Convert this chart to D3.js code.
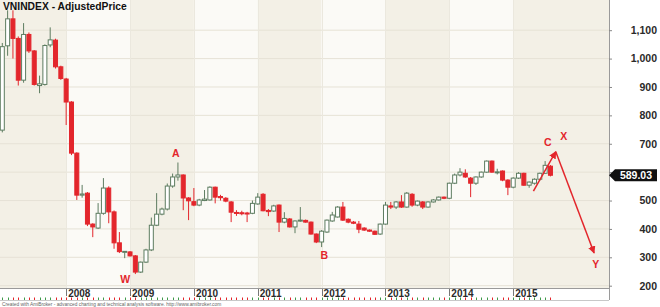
<!DOCTYPE html>
<html lang="en">
<head>
<meta charset="UTF-8" />
<title>VNINDEX - AdjustedPrice</title>
<style>
  body { margin: 0; background: #fff; }
  svg { display: block; font-family: "Liberation Sans", Arial, sans-serif; }
  .ylab { font-size: 10.5px; font-weight: bold; fill: #2a2a2a; }
  .xlab { font-size: 10px; font-weight: bold; fill: #2a2a2a; }
  .wave { font-size: 10.5px; font-weight: bold; fill: #e3262c; text-anchor: middle; }
</style>
</head>
<body>
<svg width="660" height="307"></svg>
<script src="https://d3js.org/d3.v7.min.js"></script>
<script>
// monthly bars, Jan 2007 .. Aug 2015
const months = [];
for (let yr = 2007; yr <= 2015; yr++)
  for (let m = 1; m <= 12; m++)
    if (yr < 2015 || m <= 8) months.push(yr + "-" + String(m).padStart(2, "0"));

const open = [748,1045,1140,1071,924,1085,1027,905,909,1048,1065,971,
  928,847,667,519,526,417,403,455,544,460,351,319,
  319,305,248,283,326,413,452,470,551,583,590,509,
  496,484,500,502,547,514,508,495,458,457,456,455,
  488,522,465,463,484,424,435,407,428,430,424,382,
  354,389,428,442,477,434,424,417,403,396,392,382,
  417,481,477,495,477,522,484,495,477,495,502,512,
  508,561,590,596,579,561,583,600,639,598,604,572,
  547,579,596,554,561,575,596,621];
const high = [1055,1170,1170,1078,1125,1092,1030,940,1050,1110,1070,975,
  932,850,670,555,530,420,491,579,550,465,389,322,
  322,308,285,330,440,526,475,560,595,634,592,512,
  544,506,537,550,549,520,512,498,466,464,460,500,
  526,526,470,485,486,459,438,430,477,433,426,384,
  396,433,460,480,495,437,428,428,406,398,394,419,
  495,495,498,519,530,526,500,498,497,505,514,514,
  563,595,614,610,583,585,602,641,641,612,606,575,
  582,600,598,567,578,598,639,625];
const low = [740,1010,1000,905,915,1020,905,878,905,1040,965,925,
  766,660,502,510,410,371,400,450,420,330,315,297,
  303,241,245,280,322,410,448,465,545,570,466,431,
  480,480,498,500,490,500,494,424,446,448,424,452,
  485,462,445,460,389,420,405,385,425,422,380,350,
  336,386,425,440,428,420,417,385,393,390,379,379,
  415,470,470,474,475,478,480,470,475,493,500,505,
  505,558,585,580,512,555,580,598,598,592,568,519,
  543,576,552,545,556,570,594,585];
const close = [1042,1140,1071,924,1085,1027,909,911,1046,1066,971,930,
  847,667,519,523,417,407,455,544,460,351,320,321,
  305,248,283,326,413,452,470,551,583,590,509,499,
  484,502,505,547,512,510,498,459,455,454,453,490,
  512,464,461,481,424,437,407,428,431,424,382,354,
  392,431,449,477,431,424,420,399,396,392,381,417,
  484,477,495,477,526,484,498,477,495,502,512,508,
  561,590,600,583,561,583,600,639,600,601,572,547,
  579,596,554,565,575,596,624,589.03];

const yTicks = [200, 300, 400, 500, 600, 700, 800, 900, 1000, 1100];
const yearStarts = [0, 12, 24, 36, 48, 60, 72, 84, 96];
const yearNames = ["2007","2008","2009","2010","2011","2012","2013","2014","2015"];

// wave labels: bar position, value at the text baseline
const waveNames = ["A", "W", "B", "C", "X", "Y"];
const waveBar   = [32.6, 23.1, 60.5, 102.5, 105.5, 111.5];
const waveValue = [653, 208, 293, 692, 713, 261];

// projected path: start -> C/X top -> Y
const arrowBar   = [99.8, 104, 111.2];
const arrowValue = [533, 672, 315];

const bars = months.map((m, i) => ({
  i, m, o: open[i], h: high[i], l: low[i], c: close[i], up: close[i] >= open[i]
}));

const svg = d3.select("svg");
const plotR = 609, plotB = 288;

const x = d3.scaleLinear().domain([0, 114]).range([2.3, plotR]);
const y = d3.scaleLinear().domain([200, 1100]).range([285.7, 30.2]);

const RED = "#e3262c", GREEN = "#5d7c60";
const last = bars[bars.length - 1];

// year bands
svg.append("g").selectAll("rect")
  .data(yearStarts)
  .join("rect")
  .attr("x", (d, k) => k === 0 ? 0 : x(d))
  .attr("y", 0)
  .attr("width", (d, k) => (k + 1 < yearStarts.length ? x(yearStarts[k + 1]) : plotR) - (k === 0 ? 0 : x(d)))
  .attr("height", plotB)
  .attr("fill", (d, k) => k % 2 === 0 ? "#f3f0e6" : "#fbfaf6");

// horizontal grid
svg.append("g").selectAll("line")
  .data(yTicks)
  .join("line")
  .attr("x1", 0).attr("x2", plotR)
  .attr("y1", d => y(d)).attr("y2", d => y(d))
  .attr("stroke", "#e6e2d6").attr("stroke-width", 1);

// year separators
svg.append("g").selectAll("line")
  .data(yearStarts.slice(1))
  .join("line")
  .attr("x1", d => Math.round(x(d)) + 0.5).attr("x2", d => Math.round(x(d)) + 0.5)
  .attr("y1", 0).attr("y2", plotB)
  .attr("stroke", "#ebe8de");

// candles
const candle = svg.append("g").selectAll("g")
  .data(bars)
  .join("g");

candle.append("line")
  .attr("x1", d => x(d.i)).attr("x2", d => x(d.i))
  .attr("y1", d => y(d.h)).attr("y2", d => y(d.l))
  .attr("stroke", d => d.up ? GREEN : RED)
  .attr("stroke-width", 1);

candle.append("rect")
  .attr("x", d => x(d.i) - 2)
  .attr("width", 4)
  .attr("y", d => y(Math.max(d.o, d.c)))
  .attr("height", d => Math.max(1, y(Math.min(d.o, d.c)) - y(Math.max(d.o, d.c))))
  .attr("fill", d => d.up ? "#ffffff" : RED)
  .attr("stroke", d => d.up ? GREEN : RED)
  .attr("stroke-width", 1);

// arrows
const defs = svg.append("defs");
defs.append("marker")
  .attr("id", "head")
  .attr("viewBox", "0 0 10 10")
  .attr("refX", 9).attr("refY", 5)
  .attr("markerWidth", 5).attr("markerHeight", 5)
  .attr("orient", "auto")
  .append("path").attr("d", "M0,0L10,5L0,10z").attr("fill", RED);

for (let k = 0; k < 2; k++) {
  svg.append("line")
    .attr("x1", x(arrowBar[k])).attr("y1", y(arrowValue[k]))
    .attr("x2", x(arrowBar[k + 1])).attr("y2", y(arrowValue[k + 1]))
    .attr("stroke", RED).attr("stroke-width", 1.5)
    .attr("marker-end", "url(#head)");
}

// wave labels
svg.append("g").selectAll("text")
  .data(waveNames)
  .join("text")
  .attr("class", "wave")
  .attr("x", (d, k) => x(waveBar[k]))
  .attr("y", (d, k) => y(waveValue[k]))
  .text(d => d);

// frame: right axis area and x axis band
svg.append("rect").attr("x", plotR).attr("y", 0).attr("width", 660 - plotR).attr("height", 307).attr("fill", "#fff");
svg.append("rect").attr("x", 0).attr("y", plotB).attr("width", plotR).attr("height", 19).attr("fill", "#fff");
svg.append("line").attr("x1", plotR + 0.5).attr("x2", plotR + 0.5).attr("y1", 0).attr("y2", 300)
  .attr("stroke", "#9a9a9a");
svg.append("line").attr("x1", 0).attr("x2", plotR).attr("y1", plotB + 0.5).attr("y2", plotB + 0.5)
  .attr("stroke", "#9a9a9a");
svg.append("line").attr("x1", 0).attr("x2", plotR).attr("y1", 300.5).attr("y2", 300.5)
  .attr("stroke", "#c8c8c8");

// y axis (the label under the last-price tag is covered by it)
const yAxis = svg.append("g")
  .attr("transform", `translate(${plotR},0)`)
  .call(d3.axisRight(y).tickValues(yTicks).tickSize(3)
    .tickFormat(d => Math.abs(y(d) - y(last.c)) < 8 ? "" : d3.format(",")(d)));
yAxis.select(".domain").remove();
yAxis.selectAll("line").attr("stroke", "#888");
yAxis.selectAll("text")
  .attr("class", "ylab")
  .attr("x", 48)
  .attr("text-anchor", "end")
  .attr("fill", null);
yAxis.attr("font-size", null).attr("font-family", null);

// last price tag
const ty = y(last.c);
svg.append("path")
  .attr("d", `M${plotR},${ty}L${plotR + 6},${ty - 6}L657,${ty - 6}L657,${ty + 6}L${plotR + 6},${ty + 6}Z`)
  .attr("fill", "#111");
svg.append("text")
  .attr("x", 636).attr("y", ty + 3.6)
  .attr("text-anchor", "middle")
  .attr("fill", "#fff")
  .attr("font-size", 10.5).attr("font-weight", "bold")
  .text(d3.format(".2f")(last.c));

// x axis: year ticks, labels, per-bar ticks
svg.append("g").selectAll("line")
  .data(yearStarts.slice(1))
  .join("line")
  .attr("x1", d => Math.round(x(d)) + 0.5).attr("x2", d => Math.round(x(d)) + 0.5)
  .attr("y1", plotB + 1).attr("y2", 296)
  .attr("stroke", "#777");
svg.append("g").selectAll("text")
  .data(yearStarts.slice(1))
  .join("text")
  .attr("class", "xlab")
  .attr("x", d => x(d) + 2)
  .attr("y", 297)
  .text((d, k) => yearNames[k + 1]);
svg.append("g").selectAll("line")
  .data(bars)
  .join("line")
  .attr("x1", d => Math.round(x(d.i)) + 0.5).attr("x2", d => Math.round(x(d.i)) + 0.5)
  .attr("y1", 297.5).attr("y2", 300)
  .attr("stroke", d => d.up ? "#3f9a4a" : RED);

// title and credit
svg.append("text")
  .attr("x", 3).attr("y", 10)
  .attr("font-size", 10.3).attr("font-weight", "bold").attr("fill", "#111")
  .text("VNINDEX - AdjustedPrice");
svg.append("text")
  .attr("x", 2).attr("y", 305.5)
  .attr("font-size", 4.8).attr("fill", "#666")
  .text("Created with AmiBroker - advanced charting and technical analysis software. http://www.amibroker.com");
</script>
</body>
</html>
